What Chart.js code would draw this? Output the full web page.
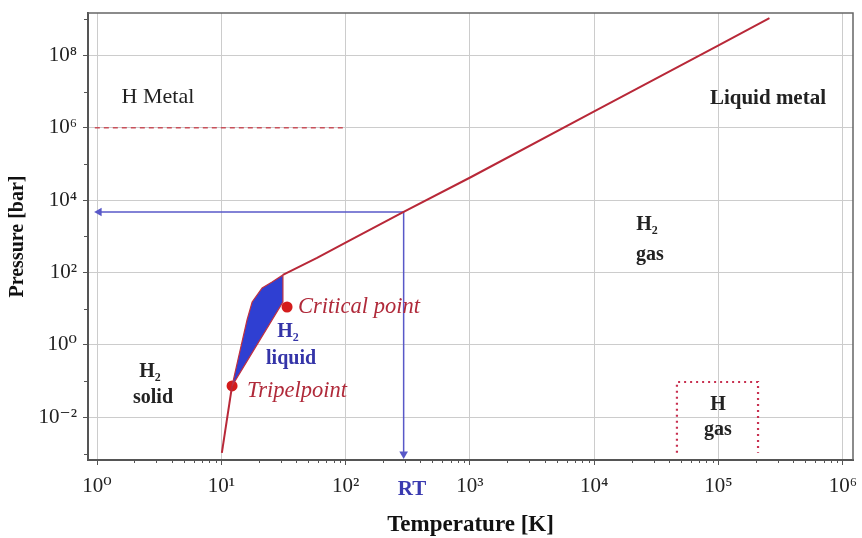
<!DOCTYPE html>
<html><head><meta charset="utf-8">
<script src="https://cdn.jsdelivr.net/npm/chart.js@4"></script>
<style>html,body{margin:0;padding:0;background:#fff}#wrap{width:862px;height:538px;position:relative}</style>
</head><body><div id="wrap"><canvas id="c"></canvas></div>
<script>
// ---- data ----
const xTicks = [1, 10, 100, 1e3, 1e4, 1e5, 1e6];
const xTickLabels = ['10⁰', '10¹', '10²', '10³', '10⁴', '10⁵', '10⁶'];
const yTicks = [1e-2, 1, 1e2, 1e4, 1e6, 1e8];
const yTickLabels = ['10⁻²', '10⁰', '10²', '10⁴', '10⁶', '10⁸'];
const xMinorTicks = [2,3,4,5,6,7,8,9,20,30,40,50,60,70,80,90,200,300,400,500,600,700,800,900,
  2e3,3e3,4e3,5e3,6e3,7e3,8e3,9e3,2e4,3e4,4e4,5e4,6e4,7e4,8e4,9e4,2e5,3e5,4e5,5e5,6e5,7e5,8e5,9e5];
const yMinorTicks = [1e-3, 1e-1, 1e1, 1e3, 1e5, 1e7, 1e9];

const sublimationT = [10.1, 12.2];
const sublimationP = [0.00104, 0.074];
const liquidT = [12.2, 13.6, 16.1, 17.7, 21.3, 25.6, 31.3, 31.3, 12.2];
const liquidP = [0.074, 0.385, 4.9, 15.4, 37.6, 55, 86, 15.4, 0.074];
const boundaryT = [31.3, 58.9, 102.6, 293, 1023, 1e4, 1e5, 2.57e5];
const boundaryP = [86, 253, 700, 4720, 43650, 2.82e6, 1.9e8, 1.07e9];
const criticalT = [33.8], criticalP = [11.2];
const tripleT = [12.2], tripleP = [0.074];
const metalT = [0.96, 100], metalP = [1e6, 1e6];
const hGasT = [46300, 46300, 208000, 208000];
const hGasP = [0.00105, 0.095, 0.095, 0.00105];
const rtArrowT = [293, 1.04], rtArrowP = [4720, 4720];
const rtDownT = [293, 293], rtDownP = [4720, 9.8e-4];

const labels = [
  {t:'H Metal', x:3.09, y:7.1e6, f:'22px', c:'#222'},
  {t:'Liquid metal', x:2.5e5, y:6.6e6, f:'bold 21px', c:'#222'},
  {t:'H₂', x:26600, y:2065, f:'bold 20px', c:'#222'},
  {t:'gas', x:28100, y:306, f:'bold 20px', c:'#222'},
  {t:'H₂', x:2.67, y:0.18, f:'bold 20px', c:'#222'},
  {t:'solid', x:2.82, y:0.0343, f:'bold 20px', c:'#222'},
  {t:'H₂', x:34.4, y:2.29, f:'bold 20px', c:'#3434a8'},
  {t:'liquid', x:36.4, y:0.41, f:'bold 20px', c:'#3434a8'},
  {t:'Critical point', x:41.4, y:11.2, f:'italic 22.5px', c:'#b02a3a', a:'left'},
  {t:'Tripelpoint', x:16.1, y:0.0537, f:'italic 22.5px', c:'#b02a3a', a:'left'},
  {t:'H', x:99000, y:0.022, f:'bold 20px', c:'#222'},
  {t:'gas', x:99000, y:0.0045, f:'bold 20px', c:'#222'},
  {t:'RT', x:342, y:1e-4, f:'bold 21px', c:'#3a3ab0'}
];

const zip = (a, b) => a.map((v, i) => ({x: v, y: b[i]}));
const RED = '#b82838';
const BLUE = '#5858c8';

const overlay = {
  id: 'overlay',
  afterDatasetsDraw(chart) {
    const ctx = chart.ctx, xs = chart.scales.x, ys = chart.scales.y;
    ctx.save();
    ctx.textBaseline = 'middle';
    labels.forEach(l => {
      ctx.font = l.f + ' "Liberation Serif", "DejaVu Serif", serif';
      ctx.fillStyle = l.c;
      ctx.textAlign = l.a || 'center';
      ctx.fillText(l.t, xs.getPixelForValue(l.x), ys.getPixelForValue(l.y));
    });
    ctx.restore();
  },
  afterDraw(chart) {
    const ctx = chart.ctx, xs = chart.scales.x, ys = chart.scales.y, ca = chart.chartArea;
    ctx.save();
    ctx.strokeStyle = '#555';
    ctx.lineWidth = 1;
    xMinorTicks.forEach(v => {
      const px = Math.round(xs.getPixelForValue(v)) + 0.5;
      ctx.beginPath(); ctx.moveTo(px, ca.bottom); ctx.lineTo(px, ca.bottom + 3); ctx.stroke();
    });
    yMinorTicks.forEach(v => {
      const py = Math.round(ys.getPixelForValue(v)) + 0.5;
      if (py < ca.top || py > ca.bottom) return;
      ctx.beginPath(); ctx.moveTo(ca.left - 4, py); ctx.lineTo(ca.left, py); ctx.stroke();
    });
    ctx.strokeStyle = '#666';
    ctx.lineWidth = 1.5;
    ctx.beginPath();
    ctx.moveTo(ca.left, ca.top); ctx.lineTo(ca.right, ca.top); ctx.lineTo(ca.right, ca.bottom);
    ctx.stroke();
    ctx.restore();
  }
};

const serif = '"Liberation Serif", "DejaVu Serif", serif';

new Chart(document.getElementById('c'), {
  type: 'scatter',
  data: {
    datasets: [
      {data: zip(liquidT, liquidP), showLine: true, fill: 'shape', backgroundColor: '#2f3fd2',
       borderColor: '#c03040', borderWidth: 1.2, pointRadius: 0, tension: 0},
      {data: zip(sublimationT, sublimationP), showLine: true, borderColor: RED, borderWidth: 2, pointRadius: 0},
      {data: zip(boundaryT, boundaryP), showLine: true, borderColor: RED, borderWidth: 2, pointRadius: 0},
      {data: zip(metalT, metalP), showLine: true, borderColor: '#c8505a', borderWidth: 1.5, borderDash: [5, 4], pointRadius: 0},
      {data: zip(hGasT, hGasP), showLine: true, borderColor: '#c83050', borderWidth: 2.2, borderDash: [2, 4], pointRadius: 0},
      {data: zip(rtArrowT, rtArrowP), showLine: true, borderColor: BLUE, backgroundColor: BLUE, borderWidth: 1.5,
       pointRadius: [0, 5], pointStyle: 'triangle', pointRotation: -90, pointBorderWidth: 0},
      {data: zip(rtDownT, rtDownP), showLine: true, borderColor: BLUE, backgroundColor: BLUE, borderWidth: 1.5,
       pointRadius: [0, 5], pointStyle: 'triangle', pointRotation: 180, pointBorderWidth: 0},
      {data: zip(criticalT, criticalP), pointRadius: 5.5, backgroundColor: '#d41c1c', borderWidth: 0},
      {data: zip(tripleT, tripleP), pointRadius: 5.5, backgroundColor: '#d41c1c', borderWidth: 0}
    ]
  },
  options: {
    responsive: true,
    maintainAspectRatio: false,
    animation: false,
    events: [],
    layout: {padding: {top: 13, right: 9, left: 0, bottom: 0}},
    plugins: {legend: {display: false}, tooltip: {enabled: false}},
    scales: {
      x: {
        type: 'logarithmic', min: 0.846, max: 1.208e6,
        afterBuildTicks: s => { s.ticks = xTicks.map(v => ({value: v})); },
        afterFit: s => { s.height = 78; s.paddingLeft = 0; s.paddingRight = 0; },
        ticks: {autoSkip: false, maxRotation: 0, padding: 9, color: '#222',
          font: {family: serif, size: 21},
          callback: (v) => xTickLabels[xTicks.indexOf(v)] ?? ''},
        grid: {color: '#cccccc', lineWidth: 1, tickLength: 5, tickColor: '#555'},
        border: {display: true, color: '#555', width: 2},
        title: {display: true, text: 'Temperature [K]', color: '#111',
          font: {family: serif, size: 23, weight: 'bold'}, padding: {top: 0, bottom: -1}}
      },
      y: {
        type: 'logarithmic', min: 6.65e-4, max: 1.48e9,
        afterBuildTicks: s => { s.ticks = yTicks.map(v => ({value: v})); },
        afterFit: s => { s.width = 88; s.paddingTop = 0; s.paddingBottom = 0; },
        ticks: {autoSkip: false, padding: 6, color: '#222',
          font: {family: serif, size: 21},
          callback: (v) => yTickLabels[yTicks.indexOf(v)] ?? ''},
        grid: {color: '#cccccc', lineWidth: 1, tickLength: 5, tickColor: '#555'},
        border: {display: true, color: '#555', width: 2},
        title: {display: true, text: 'Pressure [bar]', color: '#111',
          font: {family: serif, size: 20, weight: 'bold'}, padding: {top: 6, bottom: 0}}
      }
    }
  },
  plugins: [overlay]
});
</script>
</body></html>
